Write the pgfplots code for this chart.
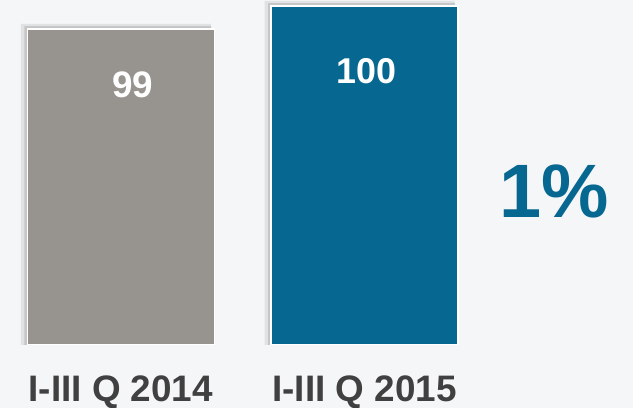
\documentclass[border=0pt]{standalone}
\usepackage{fontspec}
\setmainfont{Liberation Sans}
\usepackage{pgfplots}
\pgfplotsset{compat=1.18}

\definecolor{gbar}{RGB}{151,148,143}
\definecolor{bbar}{RGB}{6,103,145}
\definecolor{labtxt}{RGB}{64,64,64}
\definecolor{pagebg}{RGB}{245,246,248}

\begin{document}
\begin{tikzpicture}
  \fill[pagebg] (0,0) rectangle (633bp,408bp);
  \begin{axis}[
    at={(0,63bp)}, anchor=south west,
    scale only axis,
    width=633bp, height=345bp,
    xmin=-0.4954, xmax=2.1015,
    ymin=85.261, ymax=100.261,
    ybar, bar width=187bp, bar shift=0pt,
    axis line style={draw=none},
    major tick length=0pt,
    ytick=\empty,
    xtick={0,1},
    xticklabels={I-III Q 2014, I-III Q 2015},
    xticklabel style={anchor=base, yshift=-56bp, inner sep=0pt,
      font=\bfseries\fontsize{37}{37}\selectfont, text=labtxt},
    /pgf/number format/assume math mode=true,
  ]
    % soft dark edge on the upper left, like the shadow of the original
    \addplot[fill=black, fill opacity=0.08, draw=none, bar shift=-5bp, bar width=190bp]
      coordinates {(0,99.22) (1,100.22)};
    \addplot[fill=black, fill opacity=0.12, draw=none, bar shift=-3bp]
      coordinates {(0,99.12) (1,100.12)};
    \addplot[fill=gbar, draw=white, line width=1.2bp,
      nodes near coords,
      every node near coord/.append style={anchor=base, yshift=-68bp, xshift=12bp,
        text=white, font=\bfseries\fontsize{37}{37}\selectfont}]
      coordinates {(0,99)};
    \addplot[fill=bbar, draw=white, line width=1.2bp,
      nodes near coords,
      every node near coord/.append style={anchor=base, yshift=-77bp, xshift=2bp,
        text=white, font=\bfseries\fontsize{36}{36}\selectfont}]
      coordinates {(1,100)};
    \node[text=bbar, font=\bfseries\fontsize{76}{76}\selectfont] at (axis cs:1.7774,91.957) {1\%};
  \end{axis}
  \pgfresetboundingbox
  \useasboundingbox (0,0) rectangle (633bp,408bp);
\end{tikzpicture}
\end{document}
